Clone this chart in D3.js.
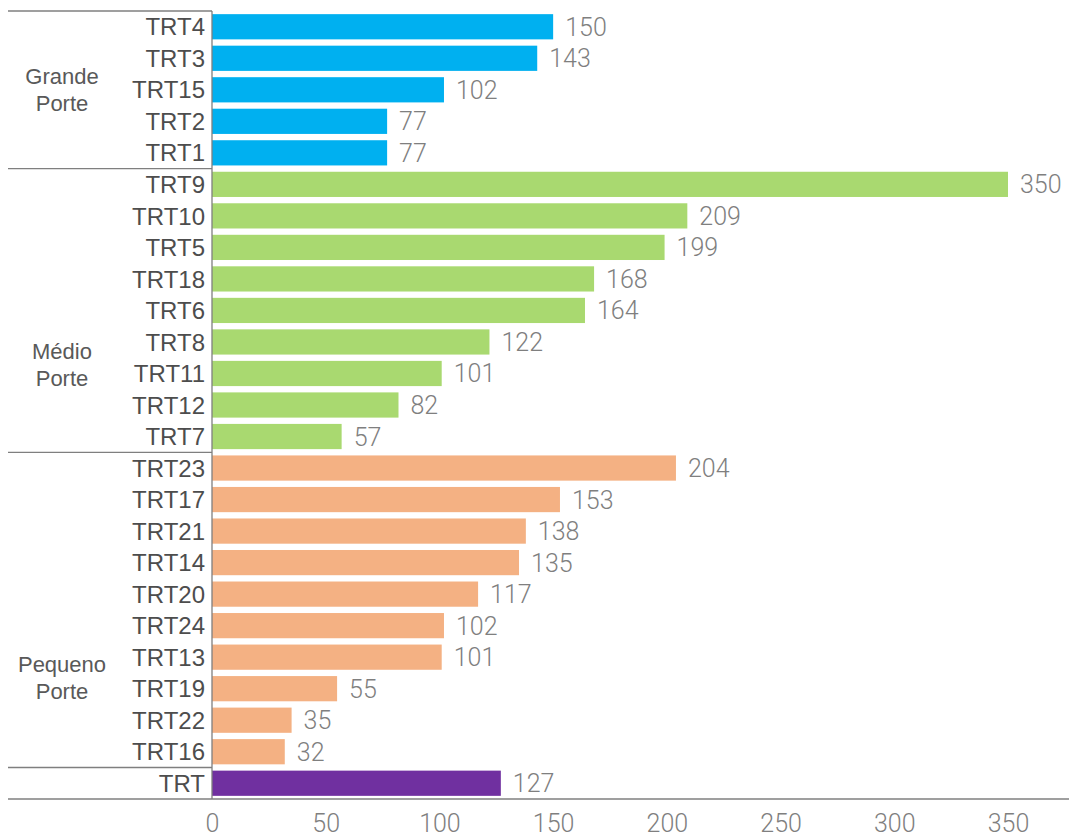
<!DOCTYPE html>
<html>
<head>
<meta charset="utf-8">
<script src="https://cdn.jsdelivr.net/npm/d3@7"></script>
<style>
  body { margin: 0; background: #fff; }
  svg { display: block; font-family: "Liberation Sans", Arial, sans-serif; }
</style>
</head>
<body>
<div id="chart"></div>
<script>
// Data
const categories = ['TRT4', 'TRT3', 'TRT15', 'TRT2', 'TRT1',
    'TRT9', 'TRT10', 'TRT5', 'TRT18', 'TRT6', 'TRT8', 'TRT11', 'TRT12', 'TRT7',
    'TRT23', 'TRT17', 'TRT21', 'TRT14', 'TRT20', 'TRT24', 'TRT13', 'TRT19', 'TRT22', 'TRT16',
    'TRT'];
const values = [150, 143, 102, 77, 77,
    350, 209, 199, 168, 164, 122, 101, 82, 57,
    204, 153, 138, 135, 117, 102, 101, 55, 35, 32,
    127];
const groupNames = [['Grande', 'Porte'], ['Médio', 'Porte'], ['Pequeno', 'Porte'], ['']];
const groupSizes = [5, 9, 10, 1];
const groupColors = ['#00b0f0', '#a9d970', '#f4b183', '#7030a0'];
const xTicks = [0, 50, 100, 150, 200, 250, 300, 350];

const W = 1071, H = 837;
const margin = { top: 11, right: 31, bottom: 38, left: 212 };
// group labels in the reference sit below the middle of their block (px)
const groupLabelShift = [0, 54, 68, 0];

const svg = d3.select('#chart').append('svg')
    .attr('width', W)
    .attr('height', H);

const x = d3.scaleLinear()
    .domain([0, 350])
    .range([margin.left, 1008]);

const y = d3.scaleBand()
    .domain(categories)
    .range([margin.top, H - margin.bottom])
    .paddingInner(0.2)
    .paddingOuter(0.1);

// group index for each category
const groupOf = [];
groupSizes.forEach((n, g) => { for (let i = 0; i < n; i++) groupOf.push(g); });

const rowTop = i => y(categories[i]) - y.step() * y.paddingInner() / 2;

// bars
svg.append('g')
    .selectAll('rect')
    .data(categories)
    .join('rect')
    .attr('x', x(0))
    .attr('y', d => y(d))
    .attr('width', (d, i) => x(values[i]) - x(0))
    .attr('height', y.bandwidth())
    .attr('fill', (d, i) => groupColors[groupOf[i]]);

// value labels
svg.append('g')
    .selectAll('text')
    .data(categories)
    .join('text')
    .attr('x', (d, i) => x(values[i]) + 12)
    .attr('y', d => y(d) + y.bandwidth() / 2)
    .attr('dy', '0.36em')
    .style('font-family', 'Roboto, sans-serif')
    .style('font-size', '25px')
    .style('font-weight', 300)
    .style('fill', '#7f7f7f')
    .text((d, i) => values[i]);

// category labels
svg.append('g')
    .selectAll('text')
    .data(categories)
    .join('text')
    .attr('x', margin.left - 7)
    .attr('y', d => y(d) + y.bandwidth() / 2)
    .attr('dy', '0.36em')
    .attr('text-anchor', 'end')
    .style('font-size', '24px')
    .style('fill', '#4d4d4d')
    .text(d => d);

// group separators and labels
const sep = svg.append('g').attr('stroke', '#7f7f7f').attr('stroke-width', 1.3);
let start = 0;
groupSizes.forEach((n, g) => {
    const top = start === 0 ? margin.top : rowTop(start);
    sep.append('line')
        .attr('x1', 8).attr('x2', margin.left)
        .attr('y1', top).attr('y2', top);
    const mid = (y(categories[start]) + y(categories[start + n - 1]) + y.bandwidth()) / 2 + groupLabelShift[g];
    const lines = groupNames[g];
    svg.append('text')
        .attr('x', 62)
        .attr('y', mid)
        .attr('text-anchor', 'middle')
        .style('font-size', '22px')
        .style('fill', '#595959')
        .selectAll('tspan')
        .data(lines)
        .join('tspan')
        .attr('x', 62)
        .attr('dy', (d, i) => i === 0 ? (-(lines.length - 1) * 0.62 + 0.36) + 'em' : '1.24em')
        .text(d => d);
    start += n;
});

// vertical axis line
svg.append('line')
    .attr('x1', margin.left).attr('x2', margin.left)
    .attr('y1', margin.top).attr('y2', H - margin.bottom)
    .attr('stroke', '#7f7f7f').attr('stroke-width', 1.3);

// bottom axis
const xAxis = svg.append('g')
    .attr('transform', `translate(0,${H - margin.bottom})`)
    .call(d3.axisBottom(x).tickValues(xTicks).tickSize(0).tickPadding(15));
xAxis.select('.domain').remove();
xAxis.selectAll('text')
    .style('font-size', '25px')
    .style('font-weight', 300)
    .style('font-family', 'Roboto, sans-serif')
    .style('fill', '#7f7f7f');
svg.append('line')
    .attr('x1', 8).attr('x2', 1069)
    .attr('y1', H - margin.bottom).attr('y2', H - margin.bottom)
    .attr('stroke', '#7f7f7f').attr('stroke-width', 1.3);
</script>
</body>
</html>
